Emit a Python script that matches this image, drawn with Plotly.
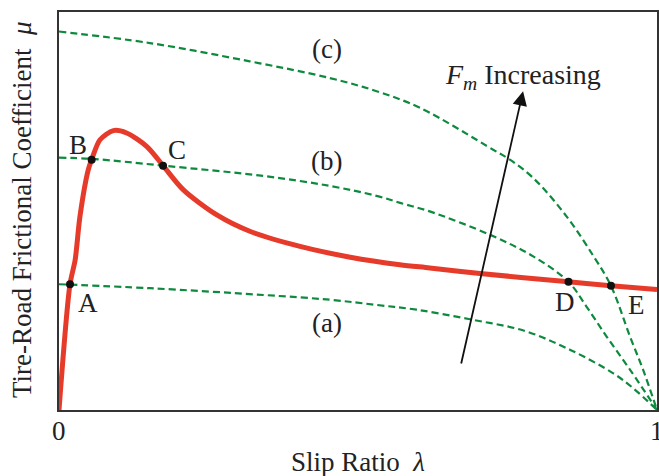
import plotly.graph_objects as go

# Slip ratio / friction coefficient curve (thick red)
mu_lam = [0, 0.0184, 0.027, 0.035, 0.049, 0.0546, 0.0686, 0.091, 0.113, 0.147, 0.174,
          0.208, 0.264, 0.319, 0.403, 0.487, 0.570, 0.620, 0.704, 0.852, 0.923, 1.0]
mu_val = [0, 0.316, 0.377, 0.486, 0.604, 0.629, 0.679, 0.702, 0.696, 0.662, 0.614,
          0.553, 0.490, 0.449, 0.411, 0.384, 0.365, 0.357, 0.343, 0.322, 0.312, 0.303]

# Required friction curves for three motor forces (dashed green)
a_lam = [0, 0.152, 0.342, 0.453, 0.531, 0.598, 0.687, 0.778, 0.855, 0.927, 0.960, 1.0]
a_val = [0.316, 0.306, 0.289, 0.277, 0.264, 0.252, 0.228, 0.199, 0.151, 0.092, 0.055, 0.0]

b_lam = [0, 0.055, 0.174, 0.342, 0.453, 0.531, 0.576, 0.620, 0.721, 0.793, 0.852, 0.882,
         0.916, 0.955, 1.0]
b_val = [0.634, 0.631, 0.614, 0.588, 0.563, 0.538, 0.518, 0.499, 0.440, 0.386, 0.322, 0.260,
         0.184, 0.101, 0.0]

c_lam = [0, 0.152, 0.319, 0.453, 0.531, 0.604, 0.726, 0.754, 0.793, 0.849, 0.894, 0.923,
         0.955, 0.977, 1.0]
c_val = [0.951, 0.922, 0.876, 0.834, 0.801, 0.759, 0.654, 0.629, 0.583, 0.486, 0.386, 0.312,
         0.184, 0.100, 0.0]

# Operating points on the friction curve
pt_names = ["A", "B", "C", "D", "E"]
pt_lam = [0.0184, 0.0546, 0.174, 0.852, 0.923]
pt_val = [0.316, 0.629, 0.614, 0.322, 0.312]
pt_label_lam = [0.049, 0.032, 0.197, 0.846, 0.966]
pt_label_val = [0.270, 0.667, 0.654, 0.272, 0.264]

curve_names = ["(a)", "(b)", "(c)"]
curve_label_lam = [0.448, 0.448, 0.448]
curve_label_val = [0.218, 0.625, 0.906]

x_tick_vals = [0, 1]
x_tick_text = ["0", "1"]

arrow_tail = (0.672, 0.113)
arrow_head = (0.776, 0.801)

FONT = "Liberation Serif, 'Times New Roman', serif"
FS = 27
RED = "#E63B2A"
GREEN = "#0E8A3E"
INK = "#222222"

fig = go.Figure()

for lam, val in [(a_lam, a_val), (b_lam, b_val), (c_lam, c_val)]:
    fig.add_trace(go.Scatter(
        x=lam, y=val, mode="lines",
        line=dict(color=GREEN, width=2.2, dash="7px,4px", shape="spline", smoothing=1.0),
        hoverinfo="skip", showlegend=False))

fig.add_trace(go.Scatter(
    x=mu_lam, y=mu_val, mode="lines",
    line=dict(color=RED, width=5, shape="spline", smoothing=0.8),
    hoverinfo="skip", showlegend=False))

fig.add_trace(go.Scatter(
    x=pt_lam, y=pt_val, mode="markers",
    marker=dict(color="#111111", size=8),
    hoverinfo="skip", showlegend=False, cliponaxis=False))

for name, lx, ly in zip(pt_names + curve_names,
                        pt_label_lam + curve_label_lam,
                        pt_label_val + curve_label_val):
    fig.add_annotation(x=lx, y=ly, text=name, showarrow=False,
                       xanchor="center", yanchor="middle",
                       font=dict(family=FONT, size=FS, color=INK))

fig.add_annotation(x=arrow_head[0], y=arrow_head[1], ax=arrow_tail[0], ay=arrow_tail[1],
                   xref="x", yref="y", axref="x", ayref="y", text="",
                   showarrow=True, arrowhead=2, arrowsize=1.6, arrowwidth=1.8,
                   arrowcolor="#111111")
fig.add_annotation(x=0.776, y=0.838, text="<i>F<sub>m</sub></i> Increasing", showarrow=False,
                   xanchor="center", yanchor="middle",
                   font=dict(family=FONT, size=28, color=INK))

# Tick labels under the frame (the right one sits on the page edge)
for tv, tt in zip(x_tick_vals, x_tick_text):
    fig.add_annotation(x=tv, y=-0.052, xref="x", yref="paper", text=tt, showarrow=False,
                       xanchor="center", yanchor="middle",
                       font=dict(family=FONT, size=FS, color=INK))

# Axis titles
fig.add_annotation(x=0.5, y=-0.131, xref="paper", yref="paper", text="Slip Ratio  <i>λ</i>",
                   xanchor="center", yanchor="middle",
                   showarrow=False, font=dict(family=FONT, size=FS, color=INK))
fig.add_annotation(x=-0.062, y=0.505, xref="paper", yref="paper",
                   text="Tire-Road Frictional Coefficient  <i>μ</i>", textangle=-90,
                   xanchor="center", yanchor="middle",
                   showarrow=False, font=dict(family=FONT, size=FS, color=INK))

fig.update_xaxes(range=[0, 1], showticklabels=False, ticks="",
                 showgrid=False, zeroline=False, showline=True, mirror=True,
                 linecolor="#333333", linewidth=2, automargin=False)
fig.update_yaxes(range=[0, 1], showticklabels=False, ticks="", showgrid=False,
                 zeroline=False, showline=True, mirror=True, linecolor="#333333",
                 linewidth=2, automargin=False)

fig.update_layout(width=659, height=476, margin=dict(l=59, r=2, t=12, b=66),
                  paper_bgcolor="white", plot_bgcolor="white",
                  font=dict(family=FONT, size=FS, color=INK))

fig.write_html("out.html")
